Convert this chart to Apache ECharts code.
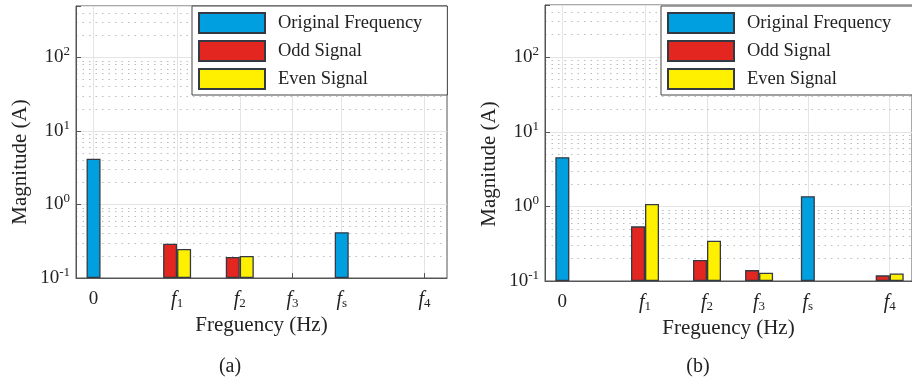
<!DOCTYPE html>
<html><head><meta charset="utf-8">
<script src="https://cdn.jsdelivr.net/npm/echarts@6/dist/echarts.min.js"></script>
<style>html,body{margin:0;padding:0;background:#fff}#c{width:912px;height:383px}</style>
</head><body><div id="c"></div>
<script>
// ---- data ----
const freqPositions = [0, 1, 1.75, 2.38, 2.97, 3.96];
const freqLabels = ['0', 'f1', 'f2', 'f3', 'fs', 'f4'];
const seriesNames = ['Original Frequency', 'Odd Signal', 'Even Signal'];
// chart (a)
const origA = [[0, 4.2], [2.97, 0.42]];
const oddA = [[1, 0.293], [1.75, 0.193]];
const evenA = [[1, 0.248], [1.75, 0.199]];
// chart (b)
const origB = [[0, 4.56], [2.97, 1.37]];
const oddB = [[1, 0.54], [1.75, 0.191], [2.38, 0.14], [3.96, 0.119]];
const evenB = [[1, 1.08], [1.75, 0.347], [2.38, 0.129], [3.96, 0.126]];
const yMajorTicks = [0.1, 1, 10, 100];
const minorGridValues = [0.2, 0.3, 0.4, 0.5, 0.6, 0.7, 0.8, 0.9,
  2, 3, 4, 5, 6, 7, 8, 9, 20, 30, 40, 50, 60, 70, 80, 90, 200, 300, 400];
const captions = ['(a)', '(b)'];

// ---- styles ----
const F = 'Liberation Serif';
const COLORS = ['#00a0e0', '#e3261f', '#fff000'];
const BORDER = '#333a44';
const XMIN = -0.21, XMAX = 4.23;

function xLabel(v) {
  const i = freqPositions.findIndex(p => Math.abs(p - v) < 1e-6);
  if (i < 0) return '';
  const t = freqLabels[i];
  if (t === '0') return '{n|0}';
  return '{i|f}{s|' + t.slice(1) + '}';
}
function yLabel(v) {
  const l = Math.log10(v);
  const e = Math.round(l);
  if (Math.abs(l - e) > 1e-6) return '';
  return '{b|10}{e|' + e + '}';
}

const grids = [
  {left: 76, top: 6, width: 371, height: 272},
  {left: 545, top: 5, width: 371, height: 276}
];

function mainX(g) {
  return {
    type: 'value', gridIndex: g, min: XMIN, max: XMAX,
    name: 'Freguency (Hz)', nameLocation: 'middle', nameGap: 37,
    nameTextStyle: {fontFamily: F, fontSize: 21, color: '#222'},
    axisLine: {show: true, onZero: false, lineStyle: {color: '#555'}},
    axisTick: {show: true, inside: true, length: 5, customValues: freqPositions, lineStyle: {color: '#555'}},
    axisLabel: {
      customValues: freqPositions, formatter: xLabel, margin: 12,
      rich: {
        n: {fontFamily: F, fontSize: 19, color: '#222'},
        i: {fontFamily: F, fontSize: 20, fontStyle: 'italic', color: '#222'},
        s: {fontFamily: F, fontSize: 13, color: '#222', verticalAlign: 'bottom', lineHeight: 18}
      }
    },
    splitLine: {show: true, lineStyle: {color: '#e4e4e4'}}
  };
}
function hiddenX(g) {
  return {type: 'value', gridIndex: g, min: XMIN, max: XMAX, show: false, splitLine: {show: false}};
}
function yAx(g) {
  return {
    type: 'log', logBase: 10, gridIndex: g, min: 0.1, max: 500, startValue: 0.1,
    axisLine: {show: true, onZero: false, lineStyle: {color: '#555'}},
    axisTick: {show: true, inside: true, length: 5, lineStyle: {color: '#555'}},
    axisLabel: {
      formatter: yLabel, margin: 6,
      rich: {
        b: {fontFamily: F, fontSize: 19, color: '#222', lineHeight: 24},
        e: {fontFamily: F, fontSize: 13, color: '#222', verticalAlign: 'top', lineHeight: 14}
      }
    },
    splitLine: {show: true, lineStyle: {color: '#e4e4e4'}}
  };
}

function barSeries(name, idx, data, xi, yi) {
  return {
    type: 'bar', name: name, data: data, xAxisIndex: xi, yAxisIndex: yi,
    barWidth: 14, barGap: '0%', z: 5,
    itemStyle: {color: COLORS[idx], borderColor: BORDER, borderWidth: 1.3}
  };
}
function minorSeries(xi, yi) {
  return {
    type: 'line', name: 'minor', data: [], xAxisIndex: xi, yAxisIndex: yi, z: 0, silent: true,
    markLine: {
      silent: true, z: 0, symbol: ['none', 'none'], label: {show: false}, animation: false,
      lineStyle: {type: [1.5, 5], color: '#bdbdbd', width: 1},
      data: minorGridValues.map(v => ({yAxis: v}))
    }
  };
}
function legendAt(left) {
  return {
    data: seriesNames, orient: 'vertical', left: left, top: 6,
    itemWidth: 66, itemHeight: 20, itemGap: 6, icon: 'rect',
    padding: [6, 25, 5, 6], borderColor: '#444', borderWidth: 1, backgroundColor: '#fff',
    textStyle: {fontFamily: F, fontSize: 18.5, color: '#222', padding: [0, 0, 0, 8]},
    selectedMode: false, z: 10
  };
}

const option = {
  animation: false,
  backgroundColor: '#fff',
  grid: grids.map(g => Object.assign({show: true, borderColor: '#555', borderWidth: 1, backgroundColor: 'transparent'}, g)),
  xAxis: [mainX(0), hiddenX(0), mainX(1), hiddenX(1)],
  yAxis: [yAx(0), yAx(1)],
  legend: [legendAt(192), legendAt(661)],
  series: [
    minorSeries(0, 0),
    barSeries(seriesNames[0], 0, origA, 1, 0),
    barSeries(seriesNames[1], 1, oddA, 0, 0),
    barSeries(seriesNames[2], 2, evenA, 0, 0),
    minorSeries(2, 1),
    barSeries(seriesNames[0], 0, origB, 3, 1),
    barSeries(seriesNames[1], 1, oddB, 2, 1),
    barSeries(seriesNames[2], 2, evenB, 2, 1)
  ],
  graphic: [
    {type: 'text', x: 20, y: 162, rotation: Math.PI / 2,
     style: {text: 'Magnitude (A)', font: '21px "Liberation Serif"', fill: '#222', align: 'center', verticalAlign: 'middle'}},
    {type: 'text', x: 489, y: 164, rotation: Math.PI / 2,
     style: {text: 'Magnitude (A)', font: '21px "Liberation Serif"', fill: '#222', align: 'center', verticalAlign: 'middle'}},
    {type: 'text', x: 230, y: 367, style: {text: captions[0], font: '20px "Liberation Serif"', fill: '#222', align: 'center', verticalAlign: 'middle'}},
    {type: 'text', x: 698, y: 367, style: {text: captions[1], font: '20px "Liberation Serif"', fill: '#222', align: 'center', verticalAlign: 'middle'}}
  ]
};
const chart = echarts.init(document.getElementById('c'), null, {renderer: 'canvas'});
chart.setOption(option);
</script></body></html>
